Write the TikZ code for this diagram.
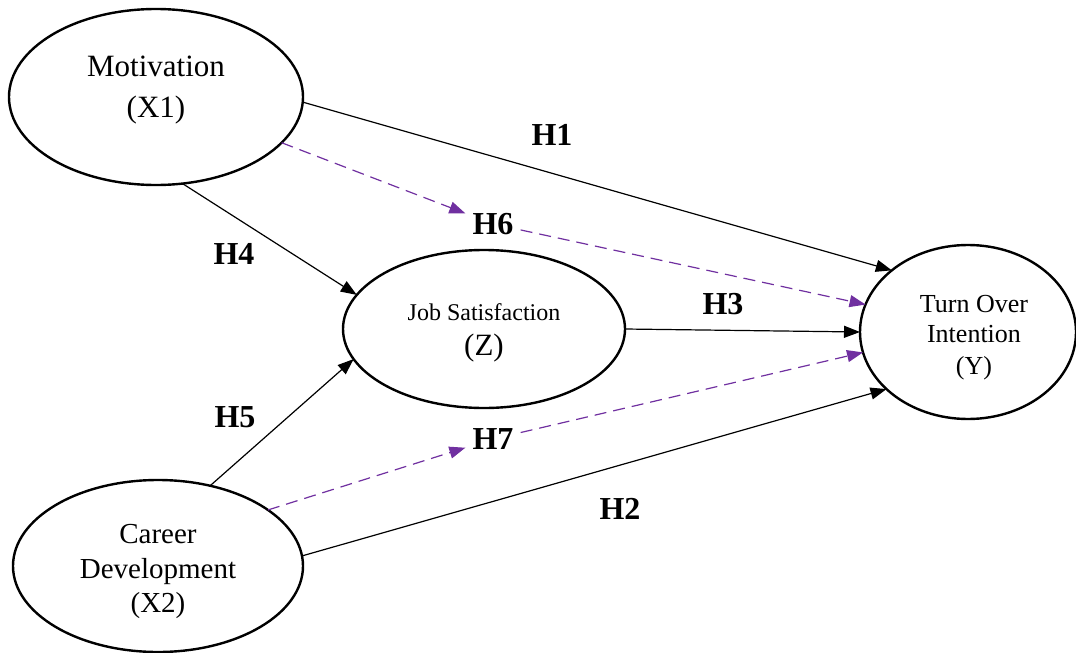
\documentclass[tikz,border=0pt]{standalone}
\usepackage{fontspec}
\setmainfont{Liberation Serif}
\usetikzlibrary{arrows.meta,shapes.geometric}
\definecolor{hpurple}{HTML}{7030A0}
\begin{document}
\begin{tikzpicture}[x=1pt,y=-1pt,
  latent/.style={draw, ellipse, line width=2.4pt, inner sep=0pt, outer sep=0pt},
  conn/.style={line width=1.2pt, -{Triangle[length=16pt,width=12pt]}},
  medpath/.style={line width=1.2pt, draw=hpurple, dash pattern=on 12pt off 7pt, -{Triangle[length=16pt,width=12pt,fill=hpurple]}},
  hyp/.style={font=\bfseries\fontsize{32}{38}\selectfont, inner sep=7pt},
  txt/.style={anchor=base, inner sep=0pt}]
\useasboundingbox (0,0) rectangle (1076,653);
% latent variables
\node[latent, minimum width=294pt, minimum height=176pt] (mot) at (156,97) {};
\node[latent, minimum width=290pt, minimum height=172pt] (car) at (158,566) {};
\node[latent, minimum width=282pt, minimum height=158pt] (job) at (484,329) {};
\node[latent, minimum width=216pt, minimum height=174pt] (toi) at (968,332) {};
% texts
\node[txt, font=\fontsize{31}{31}\selectfont] (motA) at (156,76) {Motivation};
\node[txt, font=\fontsize{31}{31}\selectfont] (motB) at (156,117) {(X1)};
\node[txt, font=\fontsize{29}{29}\selectfont] (carA) at (158,543) {Career};
\node[txt, font=\fontsize{29}{29}\selectfont] (carB) at (158,578) {Development};
\node[txt, font=\fontsize{29}{29}\selectfont] (carC) at (158,612) {(X2)};
\node[txt, font=\fontsize{24}{24}\selectfont] (jobA) at (484,320) {Job Satisfaction};
\node[txt, font=\fontsize{31}{31}\selectfont] (jobB) at (484,355) {(Z)};
\node[txt, font=\fontsize{26}{26}\selectfont] (toiA) at (974,312) {Turn Over};
\node[txt, font=\fontsize{26}{26}\selectfont] (toiB) at (974,342) {Intention};
\node[txt, font=\fontsize{26}{26}\selectfont] (toiC) at (974,374) {(Y)};
% hypothesis labels
\node[hyp] (h1) at (552,135) {H1};
\node[hyp] (h2) at (620,509) {H2};
\node[hyp] (h3) at (723,304) {H3};
\node[hyp] (h4) at (234,254) {H4};
\node[hyp] (h5) at (235,417) {H5};
\node[hyp] (h6) at (493,224) {H6};
\node[hyp] (h7) at (493,439) {H7};
% direct paths
\draw[conn] (mot.-2.3) -- (toi.141);
\draw[conn] (mot.-73) -- (job.165);
\draw[conn] (job.0) -- (toi.180);
\draw[conn] (car.57) -- (job.-167);
\draw[conn] (car.4) -- (toi.-145);
% mediated paths
\draw[medpath] (mot.-20) -- (h6);
\draw[medpath] (h6) -- (toi.165);
\draw[medpath] (car.27) -- (h7);
\draw[medpath] (h7) -- (toi.-169);
\end{tikzpicture}
\end{document}
